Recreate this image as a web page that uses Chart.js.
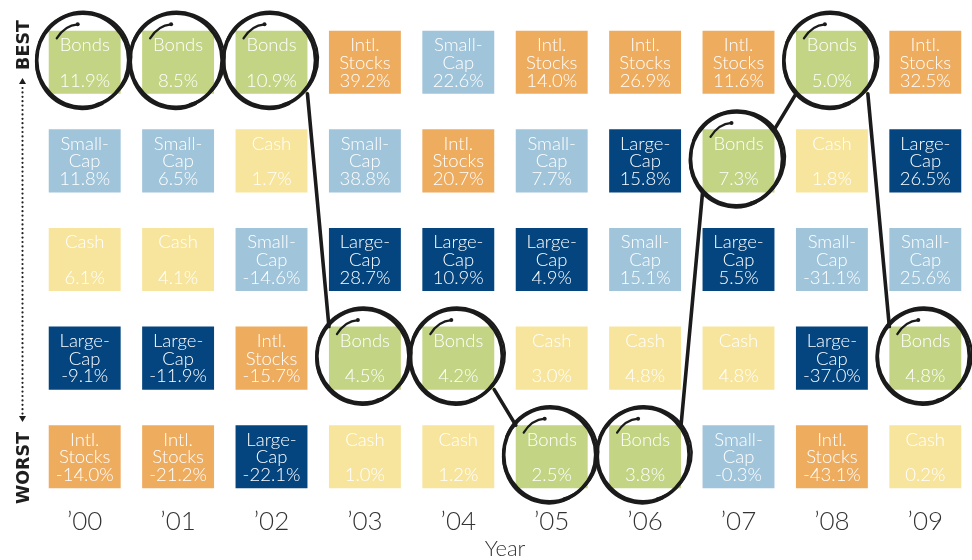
<!DOCTYPE html>
<html>
<head>
<meta charset="utf-8">
<script src="https://cdn.jsdelivr.net/npm/chart.js@4.4.1/dist/chart.umd.min.js"></script>
<style>
  html, body { margin: 0; padding: 0; background: #fff; }
  #wrap { width: 972px; height: 560px; }
</style>
</head>
<body>
<div id="wrap"><canvas id="returnsChart"></canvas></div>
<script>
const years = ['\u201900', '\u201901', '\u201902', '\u201903', '\u201904', '\u201905', '\u201906', '\u201907', '\u201908', '\u201909'];
const assetClasses = ['Bonds', 'Small-Cap', 'Cash', 'Large-Cap', 'Intl. Stocks'];

// rank each year, 1 = best, 5 = worst
const bondsRank    = [1, 1, 1, 4, 4, 5, 5, 2, 1, 4];
const smallCapRank = [2, 2, 3, 2, 1, 2, 3, 5, 3, 3];
const cashRank     = [3, 3, 2, 5, 5, 4, 4, 4, 2, 5];
const largeCapRank = [4, 4, 5, 3, 3, 3, 2, 3, 4, 2];
const intlRank     = [5, 5, 4, 1, 2, 1, 1, 1, 5, 1];

// annual return, %
const bondsReturn    = [11.9, 8.5, 10.9, 4.5, 4.2, 2.5, 3.8, 7.3, 5.0, 4.8];
const smallCapReturn = [11.8, 6.5, -14.6, 38.8, 22.6, 7.7, 15.1, -0.3, -31.1, 25.6];
const cashReturn     = [6.1, 4.1, 1.7, 1.0, 1.2, 3.0, 4.8, 4.8, 1.8, 0.2];
const largeCapReturn = [-9.1, -11.9, -22.1, 28.7, 10.9, 4.9, 15.8, 5.5, -37.0, 26.5];
const intlReturn     = [-14.0, -21.2, -15.7, 39.2, 20.7, 14.0, 26.9, 11.6, -43.1, 32.5];

const ranks = [bondsRank, smallCapRank, cashRank, largeCapRank, intlRank];
const returns = [bondsReturn, smallCapReturn, cashReturn, largeCapReturn, intlReturn];
const colors = ['#c3d584', '#a0c4da', '#f7e59e', '#04457f', '#eeac5f'];
const labelLines = {
    'Bonds': ['Bonds', ''],
    'Small-Cap': ['Small-', 'Cap'],
    'Cash': ['Cash', ''],
    'Large-Cap': ['Large-', 'Cap'],
    'Intl. Stocks': ['Intl.', 'Stocks']
};

const HALF = 0.32; // half cell height in rank units

const datasets = assetClasses.map((name, i) => ({
    label: name,
    data: ranks[i].map(r => [r - HALF, r + HALF]),
    backgroundColor: colors[i],
    borderWidth: 0,
    borderSkipped: false,
    grouped: false,
    barPercentage: 0.77,
    categoryPercentage: 1
}));

function cellBox(bar) {
    const p = bar.getProps(['x', 'y', 'base', 'width'], true);
    return {
        left: p.x - p.width / 2,
        right: p.x + p.width / 2,
        top: Math.min(p.y, p.base),
        bottom: Math.max(p.y, p.base),
        cx: p.x,
        cy: (p.y + p.base) / 2
    };
}

const cellText = {
    id: 'cellText',
    afterDatasetsDraw(chart) {
        const ctx = chart.ctx;
        ctx.save();
        ctx.fillStyle = '#ffffff';
        ctx.textAlign = 'center';
        ctx.textBaseline = 'middle';
        ctx.font = '300 18.5px Lato, "Open Sans", sans-serif';
        assetClasses.forEach((name, i) => {
            chart.getDatasetMeta(i).data.forEach((bar, j) => {
                const b = cellBox(bar);
                const h = b.bottom - b.top;
                const lines = labelLines[name];
                ctx.fillText(lines[0], b.cx, b.top + h * 0.23);
                if (lines[1]) ctx.fillText(lines[1], b.cx, b.top + h * 0.51);
                ctx.fillText(returns[i][j].toFixed(1) + '%', b.cx, b.top + h * 0.79);
            });
        });
        ctx.restore();
    }
};

function sketchCircle(ctx, cx, cy) {
    ctx.strokeStyle = '#1b1b1b';
    ctx.fillStyle = '#1b1b1b';
    ctx.lineCap = 'round';
    // main loop
    ctx.lineWidth = 3.6;
    ctx.beginPath();
    ctx.ellipse(cx - 2, cy - 2, 46, 47, 0, 0, Math.PI * 2);
    ctx.stroke();
    // extra passes for the hand-drawn look
    ctx.lineWidth = 2.2;
    ctx.beginPath();
    ctx.ellipse(cx - 1, cy - 3.5, 47.5, 47, 0.2, -Math.PI * 0.95, Math.PI * 0.35);
    ctx.stroke();
    ctx.lineWidth = 2.6;
    ctx.beginPath();
    ctx.ellipse(cx - 3, cy, 45.5, 46.5, 0, Math.PI * 0.35, Math.PI * 1.05);
    ctx.stroke();
    // flourish at the top left
    ctx.lineWidth = 2.2;
    ctx.beginPath();
    ctx.moveTo(cx - 28, cy - 24);
    ctx.quadraticCurveTo(cx - 20, cy - 37, cx - 7, cy - 38);
    ctx.stroke();
    ctx.beginPath();
    ctx.arc(cx - 7, cy - 38, 2, 0, Math.PI * 2);
    ctx.fill();
}

const bondsPath = {
    id: 'bondsPath',
    afterDatasetsDraw(chart) {
        const ctx = chart.ctx;
        const bars = chart.getDatasetMeta(0).data.map(cellBox);
        ctx.save();
        ctx.strokeStyle = '#1b1b1b';
        ctx.lineWidth = 3.6;
        ctx.lineCap = 'round';
        for (let j = 0; j < bars.length - 1; j++) {
            const a = bars[j], b = bars[j + 1];
            if (bondsRank[j] === bondsRank[j + 1]) continue;
            ctx.beginPath();
            if (bondsRank[j + 1] > bondsRank[j]) {
                ctx.moveTo(a.right, a.bottom);
                ctx.lineTo(b.left, b.top);
            } else {
                ctx.moveTo(a.right, a.top);
                ctx.lineTo(b.left, b.bottom);
            }
            ctx.stroke();
        }
        bars.forEach(b => sketchCircle(ctx, b.cx, b.cy));
        ctx.restore();
    }
};

const sideLabels = {
    id: 'sideLabels',
    afterDraw(chart) {
        const ctx = chart.ctx;
        const area = chart.chartArea;
        const x = 23;
        ctx.save();
        ctx.fillStyle = '#1e1e1e';
        ctx.font = 'bold 17.5px "DejaVu Sans", sans-serif';
        ctx.textAlign = 'center';
        ctx.textBaseline = 'middle';
        [['BEST', area.top + 32], ['WORST', area.bottom - 38]].forEach(([t, y]) => {
            ctx.save();
            ctx.translate(x, y);
            ctx.rotate(-Math.PI / 2);
            ctx.fillText(t, 0, 1);
            ctx.restore();
        });
        // dotted double arrow
        const top = area.top + 65, bottom = area.bottom - 84;
        for (let y = top + 10; y <= bottom - 8; y += 4.4) {
            ctx.beginPath();
            ctx.arc(x - 0.5, y, 1.1, 0, Math.PI * 2);
            ctx.fill();
        }
        ctx.beginPath();
        ctx.moveTo(x - 0.5, top);
        ctx.lineTo(x - 4, top + 6);
        ctx.lineTo(x + 3, top + 6);
        ctx.closePath();
        ctx.fill();
        ctx.beginPath();
        ctx.moveTo(x - 0.5, bottom);
        ctx.lineTo(x - 4, bottom - 6);
        ctx.lineTo(x + 3, bottom - 6);
        ctx.closePath();
        ctx.fill();
        ctx.restore();
    }
};

new Chart(document.getElementById('returnsChart'), {
    type: 'bar',
    data: { labels: years, datasets: datasets },
    options: {
        responsive: true,
        maintainAspectRatio: false,
        animation: false,
        layout: { padding: { left: 38, right: 0, top: 13, bottom: 0 } },
        plugins: {
            legend: { display: false },
            tooltip: { enabled: false }
        },
        scales: {
            x: {
                grid: { display: false, drawTicks: false },
                border: { display: false },
                ticks: {
                    color: '#333333',
                    padding: 3,
                    font: { family: 'Lato, "Open Sans", sans-serif', size: 26, weight: '300', lineHeight: 1.0 }
                },
                title: {
                    display: true,
                    text: 'Year',
                    color: '#333333',
                    padding: { top: 0, bottom: 0 },
                    font: { family: 'Lato, "Open Sans", sans-serif', size: 22, weight: '300', lineHeight: 1.0 }
                }
            },
            y: {
                display: false,
                reverse: true,
                min: 0.5,
                max: 5.5
            }
        }
    },
    plugins: [cellText, bondsPath, sideLabels]
});
</script>
</body>
</html>
